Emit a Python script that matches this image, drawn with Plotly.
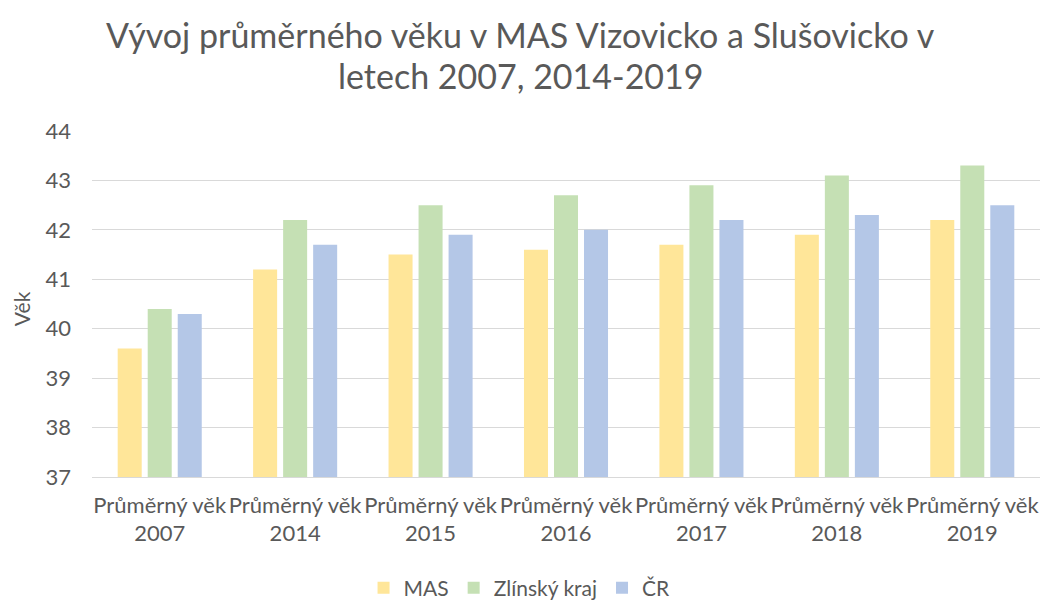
import plotly.graph_objects as go

categories = ["Průměrný věk<br>2007", "Průměrný věk<br>2014", "Průměrný věk<br>2015",
              "Průměrný věk<br>2016", "Průměrný věk<br>2017", "Průměrný věk<br>2018",
              "Průměrný věk<br>2019"]
mas = [39.6, 41.2, 41.5, 41.6, 41.7, 41.9, 42.2]
zlinsky = [40.4, 42.2, 42.5, 42.7, 42.9, 43.1, 43.3]
cr = [40.3, 41.7, 41.9, 42.0, 42.2, 42.3, 42.5]
series_names = ["MAS", "Zlínský kraj", "ČR"]
colors = ["#FFE699", "#C5E0B4", "#B4C7E7"]
title_lines = ["Vývoj průměrného věku v MAS Vizovicko a Slušovicko v", "letech 2007, 2014-2019"]
ytitle = "Věk"

FONT = "Lato"
TXT = "#595959"
fig = go.Figure()
for name, vals, c in zip(series_names, [mas, zlinsky, cr], colors):
    fig.add_trace(go.Bar(x=categories, y=vals, name=name, marker_color=c,
                         marker_line_width=0))

fig.update_layout(
    width=1040, height=593,
    paper_bgcolor="white", plot_bgcolor="white",
    margin=dict(l=84, r=8, t=123, b=124, autoexpand=False),
    barmode="group", bargap=0.335, bargroupgap=0.2,
    font=dict(family=FONT, color=TXT, size=18),
    legend=dict(orientation="h", x=0.451, xanchor="center", y=-0.321, yanchor="middle",
                font=dict(size=21, family=FONT, color=TXT), itemwidth=30,
                traceorder="normal"),
    showlegend=True,
)
for line, ypos in zip(title_lines, [1.2775, 1.1618]):
    fig.add_annotation(text=line, xref="paper", yref="paper", x=0.4525, y=ypos,
                       xanchor="center", yanchor="middle", showarrow=False,
                       font=dict(size=34, family=FONT, color=TXT))
fig.add_annotation(text=ytitle, xref="paper", yref="paper", x=-0.0745, y=0.486,
                   xanchor="center", yanchor="middle", showarrow=False, textangle=-90,
                   font=dict(size=21, family=FONT, color=TXT))
fig.update_yaxes(range=[37, 44], dtick=1, showgrid=True, gridcolor="#D9D9D9", gridwidth=1.3,
                 zeroline=False, showline=False, ticks="", ticklabelstandoff=20,
                 tickfont=dict(size=22))
fig.update_xaxes(showline=True, linecolor="#D9D9D9", linewidth=1.3, ticks="",
                 ticklabelstandoff=8, tickfont=dict(size=22), tickangle=0)

fig.write_html("out.html")
